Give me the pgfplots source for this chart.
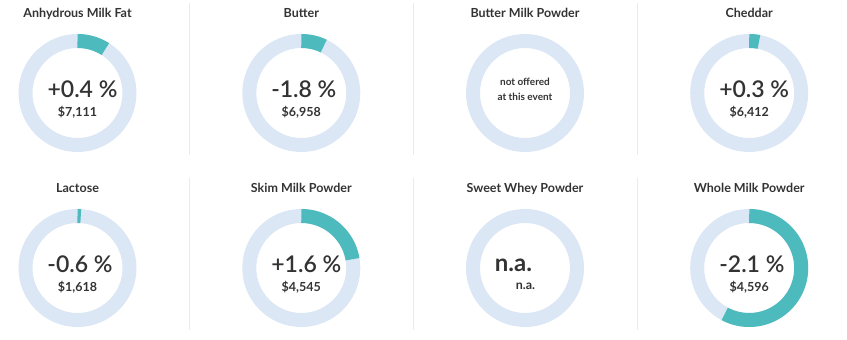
\documentclass[border=0pt]{standalone}
\usepackage{pgfplots}
\pgfplotsset{compat=1.18}
\usepackage{fontspec}
\setmainfont{Lato}
\newfontfamily\semib{Lato Semibold}
\definecolor{arcteal}{HTML}{4DBBBD}
\definecolor{ringbg}{HTML}{DCE7F5}
\definecolor{txt}{HTML}{333333}
\definecolor{sep}{HTML}{EBEBEB}
\newcommand{\ring}[3]{%
  \draw[ringbg, line width=14pt] (axis cs:#1,#2) circle[radius=52];
  \node[anchor=base, text=txt, font=\fontsize{12.5}{14}\bfseries\selectfont] at (axis cs:#1,#2+75) {#3};
}
\newcommand{\share}[3]{%
  \addplot[arcteal, line width=14pt, mark=none, domain=0:#3, samples=80] ({#1+52*sin(3.6*x)},{#2+52*cos(3.6*x)});
}
% #1 cx, #2 cy, #3 x offset of percent, #4 percent, #5 price
\newcommand{\vals}[5]{%
  \node[anchor=base, text=txt, font=\fontsize{23}{26}\semib\selectfont] at (axis cs:#1+#3,#2-5) {#4};
  \node[anchor=base, text=txt, font=\fontsize{12.5}{14}\bfseries\selectfont] at (axis cs:#1,#2-23.5) {#5};
}
\begin{document}
\begin{tikzpicture}
\begin{axis}[x=1pt, y=1pt, xmin=0, xmax=847, ymin=0, ymax=340, hide axis, clip=false]
\addplot[draw=none, mark=none] coordinates {(0,0) (847,340)};
% separators
\addplot[sep, line width=1pt, mark=none] coordinates {(189.5,337) (189.5,185)};
\addplot[sep, line width=1pt, mark=none] coordinates {(413,337) (413,185)};
\addplot[sep, line width=1pt, mark=none] coordinates {(637,337) (637,185)};
\addplot[sep, line width=1pt, mark=none] coordinates {(189.5,162) (189.5,10)};
\addplot[sep, line width=1pt, mark=none] coordinates {(413,162) (413,10)};
\addplot[sep, line width=1pt, mark=none] coordinates {(637,162) (637,10)};
% top row (center y = 247)
\ring{77.5}{247}{Anhydrous Milk Fat}
\ring{301.3}{247}{Butter}
\ring{525}{247}{Butter Milk Powder}
\ring{749.2}{247}{Cheddar}
% bottom row (center y = 72)
\ring{77.5}{72}{Lactose}
\ring{301.3}{72}{Skim Milk Powder}
\ring{525}{72}{Sweet Whey Powder}
\ring{749.2}{72}{Whole Milk Powder}
% shares of the ring
\share{77.5}{247}{9}
\share{301.3}{247}{7.1}
\share{749.2}{247}{3}
\share{77.5}{72}{1}
\share{301.3}{72}{22.3}
\share{749.2}{72}{57.8}
% values
\vals{77.5}{247}{5}{+0.4 \%}{\$7,111}
\vals{301.3}{247}{2.5}{-1.8 \%}{\$6,958}
\vals{749.2}{247}{5}{+0.3 \%}{\$6,412}
\vals{77.5}{72}{2.5}{-0.6 \%}{\$1,618}
\vals{301.3}{72}{5}{+1.6 \%}{\$4,545}
\vals{749.2}{72}{2.7}{-2.1 \%}{\$4,596}
\node[anchor=base, text=txt, font=\fontsize{10}{12}\bfseries\selectfont] at (axis cs:525,254) {not offered};
\node[anchor=base, text=txt, font=\fontsize{10}{12}\bfseries\selectfont] at (axis cs:525,239.3) {at this event};
\node[anchor=base, text=txt, font=\fontsize{24}{26}\bfseries\selectfont] at (axis cs:513.5,68.3) {n.a.};
\node[anchor=base, text=txt, font=\fontsize{12.5}{14}\bfseries\selectfont] at (axis cs:525.5,50) {n.a.};
\end{axis}
\end{tikzpicture}
\end{document}
